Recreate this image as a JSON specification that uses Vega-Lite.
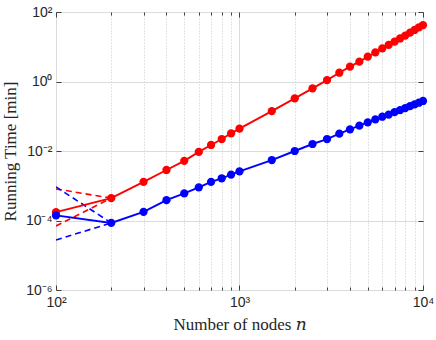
{
  "$schema": "https://vega.github.io/schema/vega-lite/v6.json",
  "width": 367,
  "height": 278,
  "autosize": {"type": "none"},
  "padding": {"left": 56, "top": 12, "right": 13, "bottom": 50},
  "background": "white",
  "view": {"stroke": "#808080", "strokeWidth": 1},
  "config": {
    "axis": {
      "labelFont": "Liberation Sans",
      "labelFontSize": 14,
      "labelColor": "#262626",
      "titleFont": "Liberation Serif, DejaVu Serif",
      "titleFontSize": 17,
      "titleFontWeight": "normal",
      "titleColor": "#262626",
      "domain": false,
      "tickColor": "#404040",
      "gridColor": "#dcdcdc",
      "gridWidth": 1
    }
  },
  "datasets": {
    "runs": [
      {"n": 100, "t": 0.000175, "series": "red"},
      {"n": 200, "t": 0.00044, "series": "red"},
      {"n": 300, "t": 0.0013, "series": "red"},
      {"n": 400, "t": 0.00284, "series": "red"},
      {"n": 500, "t": 0.0052, "series": "red"},
      {"n": 600, "t": 0.0094, "series": "red"},
      {"n": 700, "t": 0.0149, "series": "red"},
      {"n": 800, "t": 0.0221, "series": "red"},
      {"n": 900, "t": 0.0323, "series": "red"},
      {"n": 1000, "t": 0.044, "series": "red"},
      {"n": 1500, "t": 0.141, "series": "red"},
      {"n": 2000, "t": 0.328, "series": "red"},
      {"n": 2500, "t": 0.635, "series": "red"},
      {"n": 3000, "t": 1.1, "series": "red"},
      {"n": 3500, "t": 1.79, "series": "red"},
      {"n": 4000, "t": 2.67, "series": "red"},
      {"n": 4500, "t": 3.72, "series": "red"},
      {"n": 5000, "t": 5.17, "series": "red"},
      {"n": 5500, "t": 6.9, "series": "red"},
      {"n": 6000, "t": 9.0, "series": "red"},
      {"n": 6500, "t": 11.3, "series": "red"},
      {"n": 7000, "t": 14.0, "series": "red"},
      {"n": 7500, "t": 17.3, "series": "red"},
      {"n": 8000, "t": 21.0, "series": "red"},
      {"n": 8500, "t": 25.4, "series": "red"},
      {"n": 9000, "t": 30.4, "series": "red"},
      {"n": 9500, "t": 36.0, "series": "red"},
      {"n": 10000, "t": 42.0, "series": "red"},
      {"n": 100, "t": 0.00014, "series": "blue"},
      {"n": 200, "t": 0.000085, "series": "blue"},
      {"n": 300, "t": 0.000178, "series": "blue"},
      {"n": 400, "t": 0.000385, "series": "blue"},
      {"n": 500, "t": 0.0006, "series": "blue"},
      {"n": 600, "t": 0.0009, "series": "blue"},
      {"n": 700, "t": 0.0013, "series": "blue"},
      {"n": 800, "t": 0.00164, "series": "blue"},
      {"n": 900, "t": 0.0021, "series": "blue"},
      {"n": 1000, "t": 0.0026, "series": "blue"},
      {"n": 1500, "t": 0.0055, "series": "blue"},
      {"n": 2000, "t": 0.01, "series": "blue"},
      {"n": 2500, "t": 0.0159, "series": "blue"},
      {"n": 3000, "t": 0.0221, "series": "blue"},
      {"n": 3500, "t": 0.0316, "series": "blue"},
      {"n": 4000, "t": 0.042, "series": "blue"},
      {"n": 4500, "t": 0.0537, "series": "blue"},
      {"n": 5000, "t": 0.0668, "series": "blue"},
      {"n": 5500, "t": 0.0815, "series": "blue"},
      {"n": 6000, "t": 0.097, "series": "blue"},
      {"n": 6500, "t": 0.111, "series": "blue"},
      {"n": 7000, "t": 0.131, "series": "blue"},
      {"n": 7500, "t": 0.15, "series": "blue"},
      {"n": 8000, "t": 0.172, "series": "blue"},
      {"n": 8500, "t": 0.195, "series": "blue"},
      {"n": 9000, "t": 0.219, "series": "blue"},
      {"n": 9500, "t": 0.245, "series": "blue"},
      {"n": 10000, "t": 0.275, "series": "blue"}
    ],
    "fits": [
      {"n": 100, "t": 0.00081, "series": "red", "seg": "ra"},
      {"n": 200, "t": 0.00044, "series": "red", "seg": "ra"},
      {"n": 100, "t": 0.0000695, "series": "red", "seg": "rb"},
      {"n": 200, "t": 0.00044, "series": "red", "seg": "rb"},
      {"n": 100, "t": 0.00093, "series": "blue", "seg": "ba"},
      {"n": 200, "t": 0.000085, "series": "blue", "seg": "ba"},
      {"n": 100, "t": 0.0000275, "series": "blue", "seg": "bb"},
      {"n": 200, "t": 0.000085, "series": "blue", "seg": "bb"}
    ]
  },
  "resolve": {"axis": {"x": "independent", "y": "independent"}},
  "layer": [
    {
      "data": {"name": "fits"},
      "mark": {"type": "line", "strokeDash": [6, 4], "strokeWidth": 1.6, "clip": true},
      "encoding": {
        "x": {
          "field": "n", "type": "quantitative",
          "scale": {"type": "log", "domain": [100, 10000], "nice": false},
          "axis": {
            "orient": "bottom",
            "title": "Number of nodes 𝑛",
            "titlePadding": 5,
            "values": [100, 200, 300, 400, 500, 600, 700, 800, 900, 1000, 2000, 3000, 4000, 5000, 6000, 7000, 8000, 9000, 10000],
            "labelExpr": "datum.value == 100 ? '10²' : datum.value == 1000 ? '10³' : datum.value == 10000 ? '10⁴' : ''",
            "labelPadding": 10,
            "labelFlush": false,
            "labelOverlap": false,
            "tickSize": {"condition": {"test": "datum.value == 100 || datum.value == 1000 || datum.value == 10000", "value": -5}, "value": -3},
            "gridDash": {"condition": {"test": "datum.value == 100 || datum.value == 1000 || datum.value == 10000", "value": []}, "value": [1, 2]},
            "gridColor": {"condition": {"test": "datum.value == 100 || datum.value == 1000 || datum.value == 10000", "value": "#dcdcdc"}, "value": "#c8c8c8"}
          }
        },
        "y": {
          "field": "t", "type": "quantitative",
          "scale": {"type": "log", "domain": [0.000001, 100], "nice": false},
          "axis": {
            "orient": "left",
            "title": "Running Time [min]",
            "titlePadding": 6,
            "values": [0.000001, 0.0001, 0.01, 1, 100],
            "labelExpr": "datum.value < 0.00001 ? '10⁻⁶' : datum.value < 0.001 ? '10⁻⁴' : datum.value < 0.1 ? '10⁻²' : datum.value < 10 ? '10⁰' : '10²'",
            "labelPadding": 9,
            "labelOverlap": false,
            "labelFlush": false,
            "tickSize": -5
          }
        },
        "color": {"field": "series", "type": "nominal", "scale": {"domain": ["red", "blue"], "range": ["#ff0000", "#0000ff"]}, "legend": null},
        "detail": {"field": "seg"}
      }
    },
    {
      "data": {"name": "runs"},
      "transform": [{"filter": "datum.series == 'red'"}],
      "mark": {"type": "line", "color": "#ff0000", "strokeWidth": 1.9, "point": {"filled": true, "size": 68, "color": "#ff0000"}},
      "encoding": {
        "x": {"field": "n", "type": "quantitative", "scale": {"type": "log", "domain": [100, 10000], "nice": false}, "axis": null},
        "y": {"field": "t", "type": "quantitative", "scale": {"type": "log", "domain": [0.000001, 100], "nice": false}, "axis": null}
      }
    },
    {
      "data": {"name": "runs"},
      "transform": [{"filter": "datum.series == 'blue'"}],
      "mark": {"type": "line", "color": "#0000ff", "strokeWidth": 1.9, "point": {"filled": true, "size": 68, "color": "#0000ff"}},
      "encoding": {
        "x": {
          "field": "n", "type": "quantitative",
          "scale": {"type": "log", "domain": [100, 10000], "nice": false},
          "axis": {
            "orient": "top", "title": null, "labels": false, "grid": false,
            "values": [100, 200, 300, 400, 500, 600, 700, 800, 900, 1000, 2000, 3000, 4000, 5000, 6000, 7000, 8000, 9000, 10000],
            "tickSize": {"condition": {"test": "datum.value == 100 || datum.value == 1000 || datum.value == 10000", "value": -5}, "value": -3}
          }
        },
        "y": {
          "field": "t", "type": "quantitative",
          "scale": {"type": "log", "domain": [0.000001, 100], "nice": false},
          "axis": {"orient": "right", "title": null, "labels": false, "grid": false, "values": [0.000001, 0.0001, 0.01, 1, 100], "tickSize": -5}
        }
      }
    }
  ]
}
